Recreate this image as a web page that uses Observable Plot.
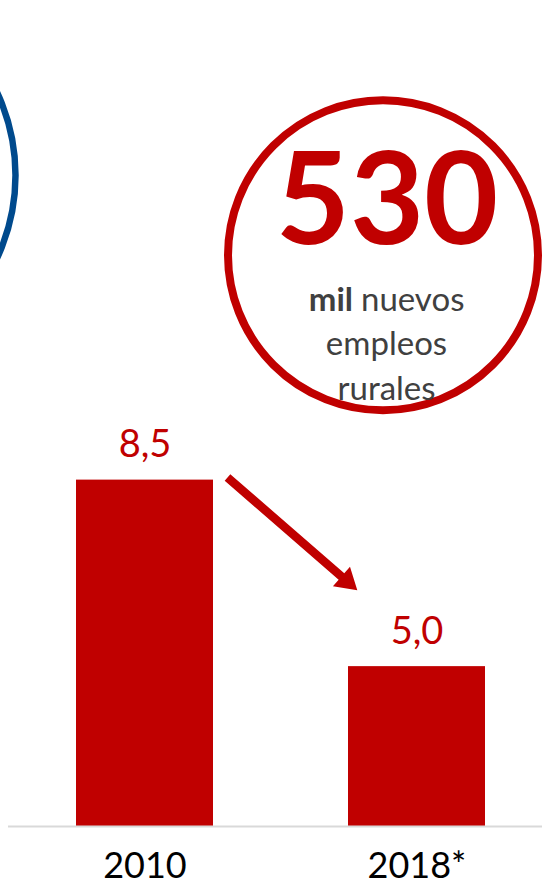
<!DOCTYPE html>
<html>
<head>
<meta charset="utf-8">
<script src="https://cdn.jsdelivr.net/npm/d3@7"></script>
<script src="https://cdn.jsdelivr.net/npm/@observablehq/plot@0.6"></script>
<style>
  html, body { margin: 0; padding: 0; background: #ffffff; }
  svg { display: block; }
</style>
</head>
<body>
<script>
// ---- Data ----
const years = ["2010", "2018*"];
const values = [8.5, 5.0];

// Highlight annotation (circle callout)
const highlightNumber = ["530"];
const highlightBold = ["mil"];
const highlightLines = ["nuevos", "empleos", "rurales"];

// ---- Styles ----
const red = "#C00000";
const blue = "#004A8D";
const grey = "#404040";
const yMin = 2, yMax = 17.5;

const data = years.map((year, i) => ({
  year,
  value: values[i],
  label: values[i].toFixed(1).replace(".", ",")
}));

// Annotation anchors (in data units of the y scale, attached to a category)
const redCircle = [{x: years[1], y: 12.72}];
const blueCircle = [{x: years[0], y: 14.22}];
const bigNum = [{x: years[1], y: 12.94, t: highlightNumber[0]}];
const line1Bold = [{x: years[1], y: 11.67, t: highlightBold[0]}];
const line1Reg = [{x: years[1], y: 11.67, t: highlightLines[0]}];
const otherLines = [
  {x: years[1], y: 10.84, t: highlightLines[1]},
  {x: years[1], y: 10.01, t: highlightLines[2]}
];
const arrowStart = [{x: years[0], y: 8.55}];

const arrowShape = {
  draw(context, l) {
    const w = 4.3, H = 13, h = 21;
    context.moveTo(-w, 0);
    context.lineTo(-w, -(l - h));
    context.lineTo(-H, -(l - h));
    context.lineTo(0, -l);
    context.lineTo(H, -(l - h));
    context.lineTo(w, -(l - h));
    context.lineTo(w, 0);
    context.closePath();
  }
};

const chart = Plot.plot({
  width: 542,
  height: 886,
  marginTop: 0,
  marginBottom: 60,
  marginLeft: 8,
  marginRight: 0,
  style: {fontFamily: "Lato, 'Open Sans', sans-serif", background: "#ffffff", overflow: "visible"},
  x: {domain: years, paddingInner: 0.497, paddingOuter: 0.228, align: 0.547},
  y: {domain: [yMin, yMax], axis: null},
  marks: [
    Plot.dot(blueCircle, {x: "x", y: "y", dx: -324.5, r: 195, stroke: blue, strokeWidth: 6.5, fill: "none"}),
    Plot.dot(redCircle, {x: "x", y: "y", dx: -34, r: 155, stroke: red, strokeWidth: 8, fill: "none"}),
    Plot.text(bigNum, {x: "x", y: "y", text: "t", dx: -30, lineAnchor: "bottom", fontSize: 128, fontWeight: "bold", fill: red}),
    Plot.text(line1Bold, {x: "x", y: "y", text: "t", dx: -64, textAnchor: "end", lineAnchor: "bottom", fontSize: 33, fontWeight: "bold", fill: grey}),
    Plot.text(line1Reg, {x: "x", y: "y", text: "t", dx: -56, textAnchor: "start", lineAnchor: "bottom", fontSize: 33, fill: grey}),
    Plot.text(otherLines, {x: "x", y: "y", text: "t", dx: -30.5, lineAnchor: "bottom", fontSize: 33, fill: grey}),
    Plot.barY(data, {x: "year", y1: yMin, y2: "value", fill: red}),
    Plot.ruleY([yMin], {stroke: "#d9d9d9", strokeWidth: 2}),
    Plot.text(data, {x: "year", y: "value", text: "label", dy: -23, lineAnchor: "bottom", fontSize: 38, fill: red}),
    Plot.vector(arrowStart, {x: "x", y: "y", dx: 82.5, length: 172, rotate: 131, anchor: "start", shape: arrowShape, fill: red, stroke: "none"}),
    Plot.axisX({tickSize: 0, tickPadding: 26, fontSize: 36, fill: "#000000"})
  ]
});

document.body.appendChild(chart);
</script>
</body>
</html>
